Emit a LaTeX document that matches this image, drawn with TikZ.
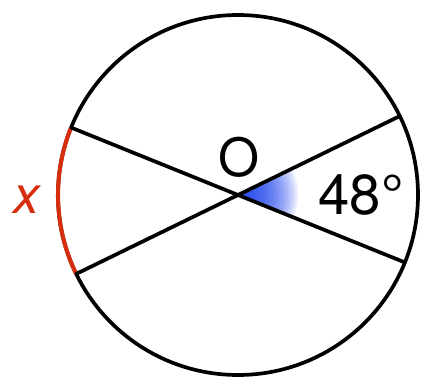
\documentclass[tikz,border=0pt]{standalone}
\usepackage{fontspec}
\setmainfont{TeX Gyre Heros}
\usetikzlibrary{positioning}
\definecolor{arcred}{RGB}{215,45,15}
\definecolor{angblue}{RGB}{15,55,235}
\tikzset{
  rim/.style={draw, line width=2.1pt},
  chord/.style={line width=2.1pt, line cap=round},
  arcmark/.style={draw=arcred, line width=2.3pt},
  arclabel/.style={font=\fontsize{30}{30}\selectfont\itshape, text=arcred},
  anglabel/.style={font=\fontsize{32}{32}\selectfont},
  ptlabel/.style={font=\fontsize{30}{30}\selectfont}
}

\begin{document}
\begin{tikzpicture}
  \useasboundingbox (0,0) rectangle (8.42,7.56);
  \coordinate (O) at (4.76,3.66);
  % ends of the two diameters
  \coordinate (A) at ([shift={(26:3.6)}]O);
  \coordinate (B) at ([shift={(-22:3.6)}]O);
  \coordinate (C) at ([shift={(158:3.6)}]O);
  \coordinate (D) at ([shift={(206:3.6)}]O);

  % shaded angle
  \foreach \r in {0.05,0.10,...,1.25}
    \fill[angblue, opacity=0.09] (O) -- ([shift={(-22:\r)}]O) arc[start angle=-22, end angle=26, radius=\r] -- cycle;

  \draw[rim] (O) circle[radius=3.6];
  \draw[arcmark] (C) arc[start angle=158, end angle=206, radius=3.6];
  \draw[chord] (C) -- (B);
  \draw[chord] (D) -- (A);

  \node[ptlabel] (olab) at (4.78,4.42) {O};
  \node[anglabel] (ang) at (7.22,3.66) {48°};
  \node[arclabel] (xlab) at (0.54,3.56) {x};
\end{tikzpicture}
\end{document}
